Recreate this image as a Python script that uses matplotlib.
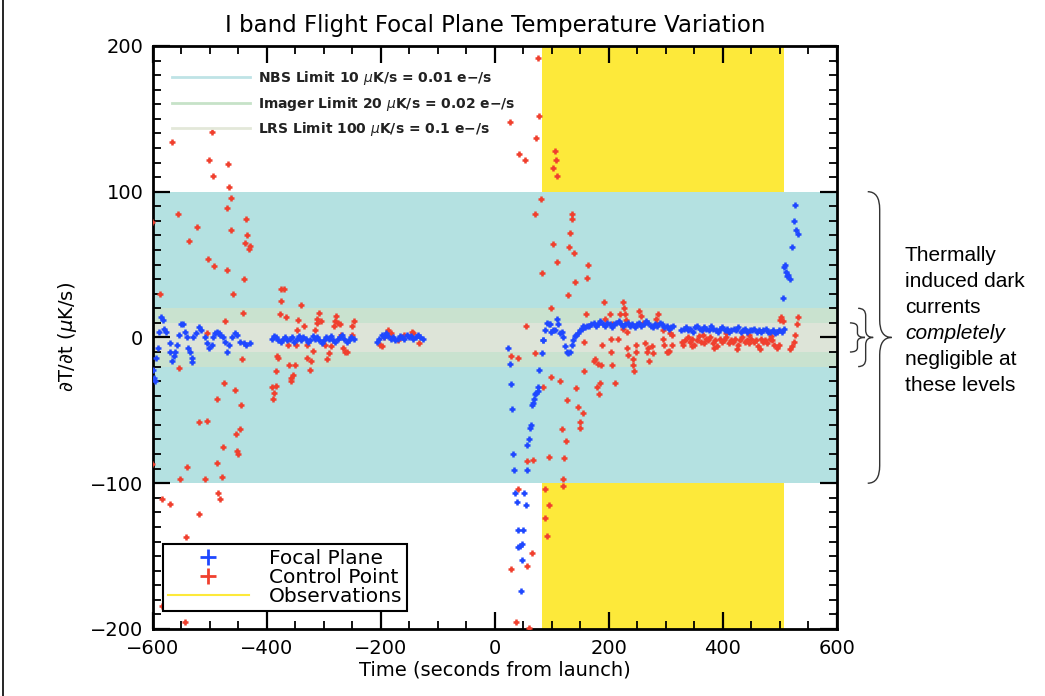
import matplotlib
matplotlib.use("Agg")
import matplotlib.pyplot as plt
from matplotlib.lines import Line2D
from matplotlib.path import Path
from matplotlib.patches import PathPatch
from matplotlib.transforms import blended_transform_factory
from matplotlib.ticker import MultipleLocator

# focal plane (blue), seconds from launch / uK per s
fp_t = [-600, -599, -597, -595, -592, -590, -586, -583, -580, -577, -571, -570, -567, -564, -561, -558,
        -555, -551, -548, -544, -541, -538, -535, -532, -531,
        -529, -524, -520, -515, -509, -506, -501, -497, -494, -491, -488, -485, -482, -477, -473,
        -470, -467, -462, -456, -452, -447, -441, -436, -429]
fp_v = [-22, -28, -30, -14, -7, 4, 14, 12, 6, 4, -4, -10, -16, -13, -10, -5,
        2, 9, 9, 4, 0, -7, -10, -14, -17,
        0, 3, 7, 5, 0, -4, -7, -5, 0, 3, 4, 3, 2, 0, -3,
        -10, -5, 0, 3, 2, -3, -4, -5, -4]

fp_t += [-392, -388, -384, -380, -376, -372, -368, -364, -360, -356, -352, -348, -344, -340, -336,
         -332, -328, -324, -320, -316, -312, -308, -304, -300, -296, -292, -288, -284, -280, -276,
         -272, -268, -264, -260, -256, -252, -248]
fp_v += [-1, 1, 0, -2, -3, -1, 0, -2, -1, 0, -3, -1, 1, -2, 0,
         -1, -3, -2, 1, -1, 0, -2, -4, -2, 0, -1, 1, -2, -3, -1,
         0, 2, -1, -3, -2, 0, -1]

fp_t += [-207, -203, -199, -195, -191, -187, -183, -179, -175, -171, -167, -163, -159, -155, -151,
         -147, -143, -139, -135, -131, -127]
fp_v += [-3, -1, 2, 0, 3, 1, -1, 0, -2, -1, 1, 0, -1, 2, 0, 1, -1, 0, 2, 0, -1]

fp_t += [23, 26, 28, 30, 31, 34, 35, 38, 40, 41, 44, 48, 47, 45, 51, 54, 50, 56, 57, 60, 61, 63,
         65, 67, 69, 70, 72, 75, 75, 78, 82, 84, 85, 88, 91, 94, 96, 99, 102, 105, 108, 111, 114,
         117, 120, 123, 126, 129, 132, 135, 137, 140, 143, 146, 149, 152, 155, 158, 161]
fp_v += [-7, -18, -32, -49, -80, -91, -107, -113, -132, -144, -143, -142, -153, -174, -107, -115,
         -132, -91, -74, -70, -62, -60, -46, -45, -42, -39, -38, -34, -37, -22, -11, -2, -2, 5, 10,
         9, 9, 4, 5, 5, 13, 9, 3, 4, 0, -6, -10, -11, -10, -5, -2, 1, 2, 3, 5, 6, 8, 7, 8]

fp_t += [165, 169, 173, 177, 181, 185, 189, 193, 197, 201, 205, 209, 213, 217, 221, 225, 229, 233,
         237, 241, 245, 249, 253, 257, 261, 265, 269, 273, 277, 281, 285, 289, 293, 297, 301, 305,
         309, 313]
fp_v += [8, 9, 10, 8, 9, 11, 9, 8, 10, 9, 7, 9, 10, 11, 9, 8, 9, 10, 8, 9, 7, 9, 10, 8, 9, 11,
         10, 8, 7, 9, 8, 10, 9, 7, 8, 6, 7, 8]

fp_t += [327, 331, 335, 339, 343, 347, 351, 355, 359, 363, 367, 371, 375, 379, 383, 387, 391, 395,
         399, 403, 407, 411, 415, 419, 423, 427, 431, 435, 439, 443, 447, 451, 455, 459, 463, 467,
         471, 475, 479, 483, 487, 491, 495, 499, 503, 507]
fp_v += [5, 6, 7, 5, 6, 4, 7, 8, 6, 5, 7, 6, 5, 8, 6, 5, 4, 6, 7, 5, 6, 4, 5, 6, 5, 7, 4, 5, 6,
         4, 5, 5, 6, 4, 5, 4, 5, 6, 4, 4, 5, 3, 4, 5, 4, 6]

fp_t += [505, 507, 509, 511, 513, 515, 518, 522, 525, 526, 528, 532]
fp_v += [27, 48, 50, 45, 42, 43, 40, 62, 80, 91, 74, 71]

# control point (red)
cp_t = [-567, -496, -501, -469, -494, -466, -464, -470, -556, -602, -437, -523, -464, -435, -536,
        -438, -430, -432, -504, -493, -471, -440, -588, -460, -474, -506, -442, -554, -444, -475,
        -456, -488, -446, -520, -506, -447, -454, -477, -453, -450, -540, -487, -553, -509, -479,
        -486, -482, -585, -571, -519, -542, -585, -543, -602, -378, -367]
cp_v = [134, 141, 122, 119, 111, 103, 96, 89, 85, 79, 81, 76, 74, 70, 66,
        65, 63, 61, 54, 49, 46, 40, 30, 30, 11, 3, 17, -21, -15, -31,
        -36, -42, -46, -58, -57, -63, -66, -75, -78, -80, -89, -86, -97, -97, -96,
        -107, -111, -111, -114, -121, -137, -184, -195, -87, 16, 14]

cp_t += [-384, -385, -392, -387, -390, -381, -371, -375, -375, -340, -308, -312, -306, -313,
         -345, -335, -279, -281, -275, -272, -283, -247, -250, -348, -316, -270, -251, -363, -349,
         -330, -298, -288, -267, -263, -259, -320, -292, -295, -382, -329, -322, -325, -361, -351,
         -354, -357, -358, -202, -199, -187, -182, -146, -144, -133, -195, -160, -170]
cp_v += [-23, -33, -34, -38, -42, -14, 33, 33, 25, 22, 17, 13, 11, 10,
         12, 8, 15, 11, 10, 9, 8, 11, 8, 5, 5, 2, 2, -5, -5,
         -5, -5, -6, -7, -10, -10, -9, -11, -15, -13, -14, -16, -22, -19, -19,
         -26, -28, -30, -5, -6, 5, 3, 4, 3, -4, 0, 2, -2]

cp_t += [75, 26, 78, 72, 43, 53, 105, 107, 102, 108, 80, 70, 135, 136, 132, 101, 130, 139, 109,
         163, 82, 140, 161, 129, 99, 159, 54, 28, 41, 70, 98, 84, 114, 126, 143, 156, 146, 154,
         149, 150, 117, 125, 56, 67, 95, 122, 120, 119, 40, 87, 94, 88, 91, 65, 29, 57, 37, 60]
cp_v += [192, 148, 152, 137, 126, 122, 128, 122, 116, 111, 95, 85, 85, 81, 72, 64, 62, 58, 52,
         50, 44, 38, 41, 29, 20, 16, 8, -13, -14, -11, -27, -34, -30, -43, -35, -23, -48, -52,
         -58, -62, -63, -71, -85, -84, -82, -83, -97, -102, -104, -104, -115, -124, -136, -148,
         -159, -157, -195, -199]

cp_t += [175, 180, 182, 179, 184, 157, 174, 186, 192, 187, 204, 216, 202, 205, 193, 203, 206,
         210, 220, 224, 227, 228, 224, 230, 232, 231, 234, 243, 244, 243, 253, 257, 260, 247, 248,
         264, 267, 271, 269, 275, 277, 283, 286, 285, 294, 295, 296, 302, 304, 305, 307, 311, 310,
         329, 330]
cp_v += [-15, -18, -39, -34, -31, -3, -16, -19, 24, -5, -1, -1, 16, 9, 13, -10, -19,
         -31, 16, 24, 20, 16, 6, 12, 4, -7, -12, -19, -23, -15, 18, 15, 10, -5, -10,
         -4, -10, -16, -7, -6, -11, 13, 16, 9, 5, -1, -5, -10, -10, -9, 3, 2, -5,
         -3, -5]

cp_t += [334, 338, 342, 346, 350, 354, 358, 362, 366, 370, 374, 378, 382, 386, 390, 394, 398, 402,
         406, 410, 414, 418, 422, 426, 430, 434, 438, 442, 446, 450, 454, 458, 462, 466, 470, 474,
         478, 482, 486, 490, 345, 365, 385, 405, 425, 445, 465, 485,
         494, 498, 500, 502, 505, 518, 521, 524, 527, 530, 532]
cp_v += [-2, 0, -3, -1, -5, -2, 1, -3, -4, -1, -2, 0, -4, -2, -6, -1, -3, -2,
         0, -4, -2, -3, -1, -5, -2, 0, -3, -2, -4, -1, -3, -2, -6, -1, -3, -2,
         -4, -1, -2, -5, -6, 2, -7, 3, -8, 2, -8, 1,
         -7, -5, 12, 14, 11, -8, -6, -3, 2, 9, 14]

obs_start, obs_end = 82, 507
limits = [(100, "#b4e1e1"), (20, "#c9e2cf"), (10, "#dde4d8")]
limit_labels = ["NBS Limit 10 $\\mu$K/s = 0.01 e\u2212/s",
                "Imager Limit 20 $\\mu$K/s = 0.02 e\u2212/s",
                "LRS Limit 100 $\\mu$K/s = 0.1 e\u2212/s"]
limit_line_colors = ["#bfe3e6", "#c6e2c8", "#e3e8d9"]

blue = "#1f48ff"
red = "#f0402e"
yellow = "#fde93a"

fig = plt.figure(figsize=(10.45, 6.96), dpi=100)
ax = fig.add_axes([0.1464, 0.0963, 0.6545, 0.8377])

ax.axvspan(obs_start, obs_end, color=yellow, lw=0, zorder=0)
for lim, col in limits:
    ax.axhspan(-lim, lim, color=col, lw=0, zorder=1)

ax.plot(cp_t, cp_v, ls="none", marker="+", ms=4.2, mew=1.8, color=red, zorder=3)
ax.plot(fp_t, fp_v, ls="none", marker="+", ms=4.2, mew=1.8, color=blue, zorder=4)

ax.set_xlim(-600, 600)
ax.set_ylim(-200, 200)
ax.xaxis.set_major_locator(MultipleLocator(200))
ax.xaxis.set_minor_locator(MultipleLocator(50))
ax.yaxis.set_major_locator(MultipleLocator(100))
ax.yaxis.set_minor_locator(MultipleLocator(10))
ax.tick_params(which="both", direction="in", top=True, right=True, labelsize=14, pad=7)
ax.tick_params(which="major", length=12, width=1.6)
ax.tick_params(which="minor", length=6, width=1.3)
for s in ax.spines.values():
    s.set_linewidth(2)

ax.set_title("I band Flight Focal Plane Temperature Variation", fontsize=16.5, pad=10)
ax.set_xlabel("Time (seconds from launch)", fontsize=14, labelpad=2)
ax.set_ylabel("\u2202T/\u2202t ($\\mu$K/s)", fontsize=14, labelpad=8)

h1 = [Line2D([], [], color=c, lw=2) for c in limit_line_colors]
leg1 = ax.legend(h1, limit_labels, loc="upper left", bbox_to_anchor=(0.02, 0.97),
                 frameon=False, fontsize=10, handlelength=5.6, handletextpad=0.6,
                 labelspacing=0.55, borderaxespad=0)
for t in leg1.get_texts():
    t.set_fontweight("bold")
    t.set_color("#222222")
ax.add_artist(leg1)

h2 = [Line2D([], [], ls="none", marker="+", ms=11, mew=2, color=blue),
      Line2D([], [], ls="none", marker="+", ms=11, mew=2, color=red),
      Line2D([], [], color=yellow, lw=1.5)]
leg2 = ax.legend(h2, ["Focal Plane", "Control Point", "Observations"], loc="lower left",
                 bbox_to_anchor=(0.0146, 0.031), fontsize=14.5, handlelength=4.0,
                 handletextpad=1.0, labelspacing=0.0, borderaxespad=0, fancybox=False,
                 edgecolor="black", framealpha=1, borderpad=0.25)
leg2.get_frame().set_linewidth(1.5)


def brace(y0, y1, x0, w, r):
    trans = blended_transform_factory(ax.transAxes, ax.transData)
    ym = (y0 + y1) / 2
    xm = x0 + w / 2
    verts = [(x0, y1), (xm, y1), (xm, y1 - r), (xm, ym + r), (xm, ym), (x0 + w, ym),
             (xm, ym), (xm, ym - r), (xm, y0 + r), (xm, y0), (x0, y0)]
    codes = [Path.MOVETO, Path.CURVE3, Path.CURVE3, Path.LINETO, Path.CURVE3, Path.CURVE3,
             Path.CURVE3, Path.CURVE3, Path.LINETO, Path.CURVE3, Path.CURVE3]
    ax.add_patch(PathPatch(Path(verts, codes), transform=trans, fill=False,
                           ec="#333333", lw=1, clip_on=False))


brace(-100, 100, 1.045, 0.035, 12)
brace(-20, 20, 1.031, 0.022, 5)
brace(-10, 10, 1.019, 0.022, 3)

note = ["Thermally", "induced dark", "currents", "completely", "negligible at", "these levels"]
for i, line in enumerate(note):
    fig.text(0.866, 0.6336 - i * 0.03736, line, fontsize=15, va="center", ha="left",
             family="Liberation Sans", style="italic" if line == "completely" else "normal")

fig.add_artist(Line2D([0.003, 0.003], [0, 1], color="black", lw=1.2))

fig.savefig("out.png", dpi=100)
